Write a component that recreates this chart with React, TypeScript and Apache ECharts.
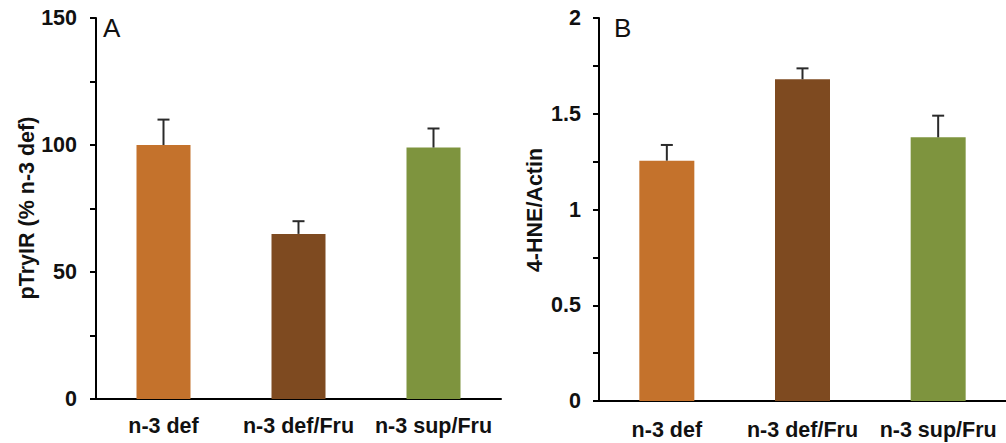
import React, { useEffect, useRef } from "react";
import * as echarts from "echarts";

const categories = ["n-3 def", "n-3 def/Fru", "n-3 sup/Fru"];
const barColors = ["#C4722C", "#7E4A20", "#7E943E"];

const pTyrValues = [100, 65, 99];
const pTyrErrTops = [110, 70, 106.5];
const hneValues = [1.255, 1.68, 1.377];
const hneErrTops = [1.337, 1.737, 1.49];

const panelATicks = { min: 0, max: 150, interval: 50 };
const panelBTicks = { min: 0, max: 2, interval: 0.5 };

const FONT = "'Liberation Sans', Arial, sans-serif";

function errRender(params: any, api: any) {
  const base = api.coord([api.value(0), api.value(1)]);
  const top = api.coord([api.value(0), api.value(2)]);
  const style = { stroke: "#2a2a2a", lineWidth: 2 };
  return {
    type: "group",
    children: [
      { type: "line", shape: { x1: base[0], y1: base[1], x2: base[0], y2: top[1] }, style },
      { type: "line", shape: { x1: base[0] - 6, y1: top[1], x2: base[0] + 6, y2: top[1] }, style },
    ],
  };
}

export default function App() {
  const ref = useRef<HTMLDivElement>(null);
  useEffect(() => {
    if (!ref.current) return;
    const chart = echarts.init(ref.current, undefined, { renderer: "svg" });
    const axisLine = { show: true, lineStyle: { color: "#000", width: 2 } };
    const yLabel = { fontFamily: FONT, fontWeight: "bold", fontSize: 21.5, color: "#111" };
    const mkY = (gi: number, t: any, margin: number) => ({
      type: "value",
      gridIndex: gi,
      min: t.min,
      max: t.max,
      interval: t.interval,
      axisLine,
      axisTick: { show: true, length: 6, lineStyle: { color: "#000", width: 2 } },
      minorTick: { show: true, splitNumber: 2, length: 6, lineStyle: { color: "#000", width: 2 } },
      splitLine: { show: false },
      axisLabel: { ...yLabel, margin },
    });
    const mkX = (gi: number, margin: number) => ({
      type: "category",
      gridIndex: gi,
      data: categories,
      axisLine,
      axisTick: { show: false },
      axisLabel: { ...yLabel, margin, interval: 0 },
    });
    chart.setOption({
      animation: false,
      grid: [
        { left: 96, top: 18, width: 405, height: 381 },
        { left: 599, top: 18, width: 412, height: 383 },
      ],
      xAxis: [mkX(0, 16), mkX(1, 18)],
      yAxis: [mkY(0, panelATicks, 19), mkY(1, panelBTicks, 18)],
      series: [
        {
          type: "bar",
          xAxisIndex: 0,
          yAxisIndex: 0,
          barWidth: 54,
          data: pTyrValues.map((v, i) => ({ value: v, itemStyle: { color: barColors[i] } })),
        },
        {
          type: "custom",
          xAxisIndex: 0,
          yAxisIndex: 0,
          renderItem: errRender,
          encode: { x: 0, y: [1, 2] },
          data: pTyrValues.map((v, i) => [i, v, pTyrErrTops[i]]),
          z: 3,
        },
        {
          type: "bar",
          xAxisIndex: 1,
          yAxisIndex: 1,
          barWidth: 55,
          data: hneValues.map((v, i) => ({ value: v, itemStyle: { color: barColors[i] } })),
        },
        {
          type: "custom",
          xAxisIndex: 1,
          yAxisIndex: 1,
          renderItem: errRender,
          encode: { x: 0, y: [1, 2] },
          data: hneValues.map((v, i) => [i, v, hneErrTops[i]]),
          z: 3,
        },
      ],
      graphic: [
        {
          type: "text",
          x: 26.5,
          y: 208,
          rotation: Math.PI / 2,
          style: { text: "pTryIR (% n-3 def)", font: `bold 21.5px ${FONT}`, fill: "#111", align: "center", verticalAlign: "middle" },
        },
        {
          type: "text",
          x: 535,
          y: 210,
          rotation: Math.PI / 2,
          style: { text: "4-HNE/Actin", font: `bold 21.5px ${FONT}`, fill: "#111", align: "center", verticalAlign: "middle" },
        },
        {
          type: "text",
          x: 103,
          y: 28,
          style: { text: "A", font: `26px ${FONT}`, fill: "#111", align: "left", verticalAlign: "middle" },
        },
        {
          type: "text",
          x: 614,
          y: 28,
          style: { text: "B", font: `26px ${FONT}`, fill: "#111", align: "left", verticalAlign: "middle" },
        },
      ],
    });
    return () => chart.dispose();
  }, []);
  return (
    <div
      ref={ref}
      style={{ position: "absolute", left: 0, top: 0, width: 1006, height: 443, background: "#fff" }}
    />
  );
}
